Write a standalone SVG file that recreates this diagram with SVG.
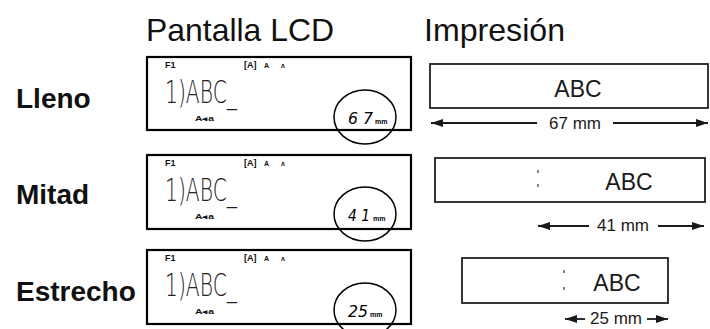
<svg xmlns="http://www.w3.org/2000/svg" width="710" height="329" viewBox="0 0 710 329">
<defs>
<style>
.title{font-family:"Liberation Sans",Arial,sans-serif;font-size:32px;fill:#111}
.row{font-family:"Liberation Sans",Arial,sans-serif;font-size:28px;font-weight:bold;fill:#111}
.lcd{fill:#fff;stroke:#000;stroke-width:2.2}
.f1{font-family:"Liberation Sans",Arial,sans-serif;font-size:9px;font-weight:bold;fill:#111}
.sm{font-family:"Liberation Sans",Arial,sans-serif;font-size:7px;font-weight:bold;fill:#111}
.big{font-family:"DejaVu Sans",sans-serif;font-weight:200;font-size:32px;fill:#222}
.dig{font-family:"DejaVu Sans",sans-serif;font-weight:300;font-style:italic;font-size:15px;fill:#000}
.mm{font-family:"Liberation Sans",Arial,sans-serif;font-size:7px;font-weight:bold;fill:#000}
.ring{fill:none;stroke:#000;stroke-width:1.5}
.tape{fill:#fff;stroke:#222;stroke-width:1.8}
.abc{font-family:"Liberation Sans",Arial,sans-serif;font-size:23px;fill:#1a1a1a;text-anchor:middle}
.dim{font-family:"Liberation Sans",Arial,sans-serif;font-size:17px;fill:#1a1a1a;text-anchor:middle}
.arr{stroke:#1a1a1a;stroke-width:1.8;fill:none}
.cut{stroke:#333;stroke-width:1.2}
</style>
<marker id="ah" viewBox="0 0 12 8" refX="12" refY="4" markerWidth="12" markerHeight="8" markerUnits="userSpaceOnUse" orient="auto-start-reverse">
<path d="M0,0 L12,4 L0,8 Z" fill="#1a1a1a"/>
</marker>
</defs>

<g id="headers">
<text class="title" x="146" y="41" textLength="188" lengthAdjust="spacingAndGlyphs">Pantalla LCD</text>
<text class="title" x="424" y="41" textLength="141" lengthAdjust="spacingAndGlyphs">Impresión</text>
</g>

<g id="labels">
<text class="row" x="16" y="108">Lleno</text>
<text class="row" x="16" y="204">Mitad</text>
<text class="row" x="16" y="301">Estrecho</text>
</g>

<g id="lcd-lleno">
<rect class="lcd" x="147" y="57" width="264" height="73"/>
<text class="f1" x="165" y="68">F1</text>
<text class="f1" x="244" y="68">[A]</text>
<text class="sm" x="264" y="68">A</text>
<text class="sm" x="281" y="68">ʌ</text>
<text class="big" x="165" y="103" textLength="72" lengthAdjust="spacingAndGlyphs">1)ABC_</text>
<text class="sm" x="195" y="121" textLength="19" lengthAdjust="spacingAndGlyphs">A◂a</text>
<ellipse class="ring" cx="365" cy="117" rx="31" ry="27"/>
<text class="dig" x="348" y="124" textLength="25" lengthAdjust="spacingAndGlyphs">6 7</text>
<text class="mm" x="375" y="124">mm</text>
</g>

<g id="lcd-mitad">
<rect class="lcd" x="147" y="155" width="264" height="74"/>
<text class="f1" x="165" y="166">F1</text>
<text class="f1" x="244" y="166">[A]</text>
<text class="sm" x="264" y="166">A</text>
<text class="sm" x="281" y="166">ʌ</text>
<text class="big" x="165" y="201" textLength="72" lengthAdjust="spacingAndGlyphs">1)ABC_</text>
<text class="sm" x="195" y="219" textLength="19" lengthAdjust="spacingAndGlyphs">A◂a</text>
<ellipse class="ring" cx="365" cy="214" rx="31" ry="27"/>
<text class="dig" x="348" y="221" textLength="22" lengthAdjust="spacingAndGlyphs">4 1</text>
<text class="mm" x="373" y="221">mm</text>
</g>

<g id="lcd-estrecho">
<rect class="lcd" x="147" y="250" width="264" height="74"/>
<text class="f1" x="165" y="261">F1</text>
<text class="f1" x="244" y="261">[A]</text>
<text class="sm" x="264" y="261">A</text>
<text class="sm" x="281" y="261">ʌ</text>
<text class="big" x="165" y="296" textLength="72" lengthAdjust="spacingAndGlyphs">1)ABC_</text>
<text class="sm" x="195" y="314" textLength="19" lengthAdjust="spacingAndGlyphs">A◂a</text>
<ellipse class="ring" cx="365" cy="310" rx="31" ry="27"/>
<text class="dig" x="348" y="317" textLength="20" lengthAdjust="spacingAndGlyphs">25</text>
<text class="mm" x="370" y="317">mm</text>
</g>

<g id="tape-lleno">
<rect class="tape" x="430" y="64" width="278" height="44"/>
<text class="abc" x="578" y="97">ABC</text>
<text class="dim" x="575" y="129">67 mm</text>
</g>

<g id="tape-mitad">
<rect class="tape" x="435" y="158" width="270" height="44"/>
<line class="cut" x1="538" y1="170" x2="538" y2="173"/>
<line class="cut" x1="538" y1="184" x2="538" y2="187"/>
<text class="abc" x="629" y="190">ABC</text>
<text class="dim" x="623" y="231">41 mm</text>
</g>

<g id="tape-estrecho">
<rect class="tape" x="462" y="258" width="206" height="45"/>
<line class="cut" x1="564" y1="270" x2="564" y2="273"/>
<line class="cut" x1="564" y1="287" x2="564" y2="290"/>
<text class="abc" x="617" y="291">ABC</text>
<text class="dim" x="616" y="324">25 mm</text>
</g>

<g id="connectors">
<line class="arr" x1="537" y1="123" x2="431" y2="123" marker-end="url(#ah)"/>
<line class="arr" x1="613" y1="123" x2="708" y2="123" marker-end="url(#ah)"/>
<line class="arr" x1="589" y1="226" x2="538" y2="226" marker-end="url(#ah)"/>
<line class="arr" x1="658" y1="226" x2="704" y2="226" marker-end="url(#ah)"/>
<line class="arr" x1="585" y1="319" x2="565" y2="319" marker-end="url(#ah)"/>
<line class="arr" x1="647" y1="319" x2="668" y2="319" marker-end="url(#ah)"/>
</g>
</svg>
